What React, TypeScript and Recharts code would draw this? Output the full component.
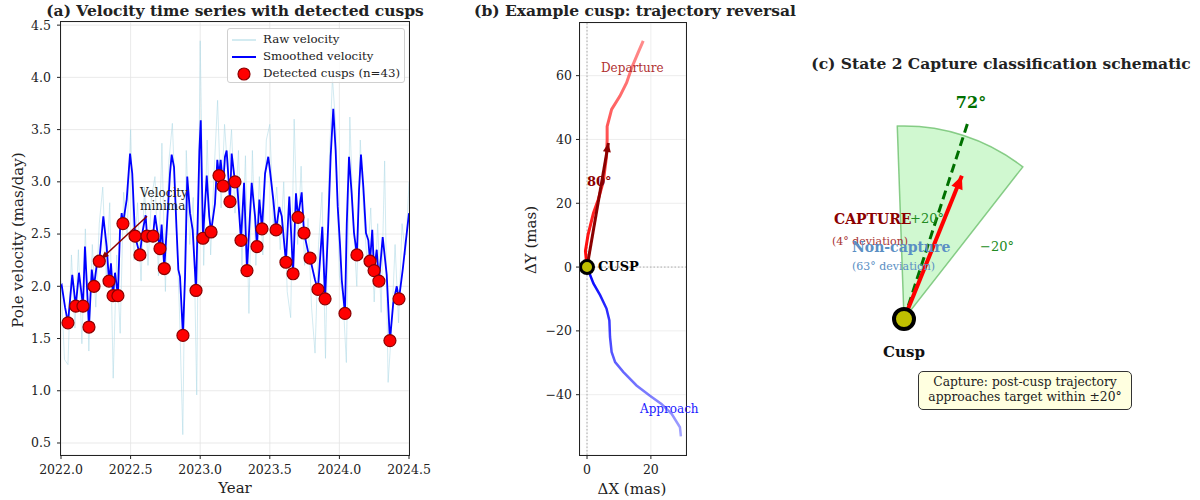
import React from 'react';
import {
  ComposedChart, Line, Scatter, XAxis, YAxis, CartesianGrid, ReferenceLine, ReferenceDot,
  PieChart, Pie, ScatterChart,
} from 'recharts';

const FONT = '"DejaVu Serif", serif';

// ---- (a) velocity time series ----
const yearTicks = [2022, 2022.5, 2023, 2023.5, 2024, 2024.5];
const velTicks = [0.5, 1, 1.5, 2, 2.5, 3, 3.5, 4, 4.5];

// smoothed velocity [year, mas/day]
const smoothVelocity: [number, number][] = [
  [2022.0, 2.0], [2022.005, 2.01], [2022.029, 1.8], [2022.05, 1.65], [2022.081, 2.11],
  [2022.106, 1.81], [2022.129, 2.13], [2022.158, 1.81], [2022.172, 2.38], [2022.201, 1.61],
  [2022.221, 2.16], [2022.237, 2.0], [2022.262, 2.26], [2022.275, 2.24], [2022.304, 2.67],
  [2022.328, 2.38], [2022.345, 2.05], [2022.359, 2.22], [2022.374, 1.91], [2022.388, 2.13],
  [2022.409, 1.91], [2022.424, 2.54], [2022.436, 2.7], [2022.445, 2.6], [2022.472, 2.83],
  [2022.496, 3.27], [2022.512, 3.08], [2022.532, 2.48], [2022.567, 2.3], [2022.584, 2.51],
  [2022.608, 2.68], [2022.618, 2.48], [2022.64, 2.52], [2022.661, 2.48], [2022.675, 2.68],
  [2022.711, 2.36], [2022.723, 2.59], [2022.742, 2.17], [2022.759, 2.54], [2022.783, 3.08],
  [2022.795, 3.26], [2022.812, 3.14], [2022.83, 2.55], [2022.843, 2.16], [2022.855, 2.09],
  [2022.876, 1.53], [2022.891, 2.09], [2022.907, 3.05], [2022.927, 2.7], [2022.946, 2.54],
  [2022.97, 1.96], [2022.994, 3.3], [2023.004, 3.59], [2023.02, 2.46], [2023.047, 3.06],
  [2023.065, 2.67], [2023.078, 2.52], [2023.106, 2.79], [2023.123, 3.21], [2023.135, 3.06],
  [2023.147, 3.21], [2023.164, 2.96], [2023.178, 3.24], [2023.19, 3.3], [2023.214, 2.81],
  [2023.226, 3.27], [2023.25, 3.0], [2023.262, 3.05], [2023.293, 2.44], [2023.315, 2.99],
  [2023.336, 2.15], [2023.37, 2.99], [2023.394, 2.67], [2023.408, 2.38], [2023.425, 2.83],
  [2023.444, 2.55], [2023.466, 3.08], [2023.489, 3.24], [2023.501, 3.11], [2023.525, 2.83],
  [2023.545, 2.54], [2023.568, 2.76], [2023.586, 2.67], [2023.616, 2.23], [2023.64, 2.86],
  [2023.657, 2.41], [2023.667, 2.12], [2023.688, 2.89], [2023.703, 2.66], [2023.729, 2.9],
  [2023.746, 2.51], [2023.777, 2.32], [2023.789, 2.27], [2023.825, 2.06], [2023.846, 1.97],
  [2023.877, 2.57], [2023.897, 1.88], [2023.92, 2.6], [2023.937, 3.24], [2023.956, 3.7],
  [2023.973, 3.3], [2023.988, 2.76], [2024.004, 2.41], [2024.017, 2.06], [2024.04, 1.74],
  [2024.053, 2.6], [2024.069, 3.24], [2024.088, 2.89], [2024.105, 2.51], [2024.126, 2.3],
  [2024.141, 2.92], [2024.155, 3.26], [2024.172, 2.95], [2024.191, 2.51], [2024.208, 2.44],
  [2024.22, 2.24], [2024.236, 2.54], [2024.249, 2.15], [2024.268, 2.35], [2024.284, 2.05],
  [2024.311, 2.47], [2024.34, 2.11], [2024.363, 1.48], [2024.387, 1.84], [2024.412, 2.0],
  [2024.428, 1.88], [2024.455, 2.16], [2024.478, 2.44], [2024.5, 2.7],
];

// raw velocity, sampled every 0.025 yr from 2022.0
const rawStart = 2022.0;
const rawStep = 0.025;
const rawVelocity = [
  2.05, 1.3, 1.25, 2.3, 1.6, 2.35, 1.45, 2.55, 1.38, 2.4,
  1.8, 2.6, 2.95, 2.1, 2.8, 1.12, 2.3, 1.55, 2.9, 2.5,
  3.5, 2.25, 2.8, 2.05, 2.95, 2.2, 2.85, 3.05, 2.1, 3.37,
  1.95, 3.2, 3.56, 2.7, 1.8, 0.58, 3.3, 2.4, 2.85, 0.96,
  4.35, 2.2, 3.4, 2.3, 3.1, 3.78, 2.75, 3.55, 3.05, 3.5,
  2.7, 3.3, 2.2, 3.25, 1.74, 3.3, 2.2, 3.05, 2.3, 3.4,
  3.55, 2.6, 2.95, 2.35, 3.0, 1.95, 1.7, 3.6, 2.4, 3.15,
  2.2, 2.65, 1.8, 1.36, 2.4, 2.9, 1.31, 3.1, 4.0, 3.5,
  2.1, 1.9, 1.27, 3.62, 2.6, 2.0, 3.4, 2.7, 2.2, 2.75,
  1.85, 2.6, 1.75, 3.2, 1.08, 1.6, 2.4, 1.65, 2.6, 2.3,
  3.0,
];

const cuspYears = [
  2022.05, 2022.106, 2022.158, 2022.201, 2022.237, 2022.275, 2022.345, 2022.374, 2022.409, 2022.445,
  2022.532, 2022.567, 2022.618, 2022.661, 2022.711, 2022.742, 2022.876, 2022.97, 2023.02, 2023.078,
  2023.135, 2023.164, 2023.214, 2023.25, 2023.293, 2023.336, 2023.408, 2023.444, 2023.545, 2023.616,
  2023.667, 2023.703, 2023.746, 2023.789, 2023.846, 2023.897, 2024.04, 2024.126, 2024.22, 2024.249,
  2024.284, 2024.363, 2024.428,
];
const cuspVals = [
  1.65, 1.81, 1.81, 1.61, 2.0, 2.24, 2.05, 1.91, 1.91, 2.6,
  2.48, 2.3, 2.48, 2.48, 2.36, 2.17, 1.53, 1.96, 2.46, 2.52,
  3.06, 2.96, 2.81, 3.0, 2.44, 2.15, 2.38, 2.55, 2.54, 2.23,
  2.12, 2.66, 2.51, 2.27, 1.97, 1.88, 1.74, 2.3, 2.24, 2.15,
  2.05, 1.48, 1.88,
];

const minimaText: [number, number] = [2022.618, 2.67];
const minimaTip: [number, number] = [2022.287, 2.26];

// ---- (b) example cusp ----
const approachPath: [number, number][] = [
  [29.4, -53.1], [29.1, -50.2], [26.5, -46.0], [23.3, -42.9], [19.7, -40.3], [15.5, -37.1],
  [11.4, -32.9], [8.8, -29.8], [7.7, -26.6], [7.2, -21.9], [7.0, -16.7], [6.1, -13.0],
  [4.1, -8.8], [2.0, -5.1], [0, 0],
];
const departurePath: [number, number][] = [
  [0, 0], [-0.5, 5], [0.3, 10], [2.0, 16.9], [3.5, 21.1], [5.1, 26.8], [6.1, 34.7],
  [6.3, 39.9], [6.3, 44.1], [7.7, 49.4], [10.3, 53.6], [12.4, 57.8], [14.0, 62.5],
  [16.0, 67.2], [17.6, 70.9],
];
const reversalTip: [number, number] = [6.7, 38.9];
const dxTicks = [0, 20];
const dyTicks = [-40, -20, 0, 20, 40, 60];

// ---- (c) schematic ----
const targetAngle = 72;
const tolerance = 20;
const captureDeviation = 4;
const nonCaptureDeviation = 63;

const tickStyle = { fontSize: 12.5, fill: '#222', fontFamily: FONT };
const minus = (v: number) => (v < 0 ? '\u2212' + Math.abs(v) : String(v));

function ArrowHead({ cx, cy, angle, len, wid, color }: any) {
  const a = (angle * Math.PI) / 180;
  const ux = Math.cos(a), uy = Math.sin(a);
  const bx = cx - ux * len, by = cy - uy * len;
  const pts = [
    [cx, cy],
    [bx - (uy * wid) / 2, by + (ux * wid) / 2],
    [bx + (uy * wid) / 2, by - (ux * wid) / 2],
  ].map((p) => p.join(',')).join(' ');
  return <polygon points={pts} fill={color} />;
}

function Txt({ x, y, size = 12, color = '#222', bold = false, center = false, children }: any) {
  return (
    <div
      style={{
        position: 'absolute',
        left: center ? x - 300 : x,
        width: center ? 600 : undefined,
        top: y - size * 0.6,
        textAlign: center ? 'center' : 'left',
        fontSize: size,
        lineHeight: `${size * 1.2}px`,
        whiteSpace: 'nowrap',
        fontFamily: FONT,
        fontWeight: bold ? 'bold' : 'normal',
        color,
      }}
    >
      {children}
    </div>
  );
}

function VLabel({ x, y, size = 15, children }: any) {
  return (
    <div
      style={{
        position: 'absolute', left: x, top: y, transform: 'translate(-50%, -50%) rotate(-90deg)',
        fontSize: size, fontFamily: FONT, whiteSpace: 'nowrap', color: '#222',
      }}
    >
      {children}
    </div>
  );
}

function Frame({ l, t, r, b }: any) {
  return (
    <div
      style={{
        position: 'absolute', left: l - 1, top: t - 1, width: r - l + 2, height: b - t + 2,
        border: '1.3px solid #222', boxSizing: 'border-box', pointerEvents: 'none',
      }}
    />
  );
}

function VelocityPanel() {
  const smooth = smoothVelocity.map(([x, y]) => ({ x, y }));
  const raw = rawVelocity.map((y, i) => ({ x: rawStart + i * rawStep, y }));
  const cusps = cuspYears.map((x, i) => ({ x, y: cuspVals[i] }));
  const yearDomain: [number, number] = [2022, 2024.5];
  const velDomain: [number, number] = [0.385, 4.53];
  const pl = 61, pr = 409, pt = 22, pb = 455;
  const W = 445;
  const pxYear = (pr - pl) / (yearDomain[1] - yearDomain[0]);
  const pxVel = (pb - pt) / (velDomain[1] - velDomain[0]);
  const ang =
    (Math.atan2(-(minimaTip[1] - minimaText[1]) * pxVel, (minimaTip[0] - minimaText[0]) * pxYear) * 180) / Math.PI;

  return (
    <>
      <div style={{ position: 'absolute', left: 0, top: 0 }}>
        <ComposedChart width={W} height={500} margin={{ top: pt, right: W - pr, bottom: 15, left: 0 }}>
          <CartesianGrid stroke="#e4e4e4" strokeWidth={0.8} />
          <XAxis
            type="number" dataKey="x" domain={yearDomain} ticks={yearTicks} interval={0} allowDataOverflow
            tickFormatter={(v: number) => v.toFixed(1)} tick={tickStyle} tickSize={4} tickMargin={6}
            axisLine={false} tickLine={{ stroke: '#222' }} height={30}
          />
          <YAxis
            type="number" domain={velDomain} ticks={velTicks} interval={0} allowDataOverflow
            tickFormatter={(v: number) => v.toFixed(1)} tick={tickStyle} tickSize={4} tickMargin={6}
            axisLine={false} tickLine={{ stroke: '#222' }} width={pl}
          />
          <Line data={raw} dataKey="y" stroke="#add8e6" strokeWidth={1} strokeOpacity={0.55} dot={false} isAnimationActive={false} />
          <Line data={smooth} dataKey="y" stroke="#0000ff" strokeWidth={1.8} dot={false} isAnimationActive={false} />
          <ReferenceLine
            segment={[{ x: minimaText[0], y: minimaText[1] }, { x: minimaTip[0], y: minimaTip[1] }]}
            stroke="#8b0000" strokeWidth={1.5}
          />
          <ReferenceDot
            x={minimaTip[0]} y={minimaTip[1]}
            shape={(p: any) => <ArrowHead cx={p.cx} cy={p.cy} angle={ang} len={8} wid={6} color="#8b0000" />}
          />
          <Scatter
            data={cusps} dataKey="y" isAnimationActive={false}
            shape={(p: any) => <circle cx={p.cx} cy={p.cy} r={6} fill="#ff0000" stroke="#8b0000" strokeWidth={1.2} />}
          />
        </ComposedChart>
      </div>
      <Frame l={pl} t={pt} r={pr} b={pb} />
      <div
        style={{
          position: 'absolute', left: 227, top: 28, width: 178, height: 55, boxSizing: 'border-box',
          border: '1px solid #d0d0d0', borderRadius: 3, background: 'rgba(255,255,255,0.8)',
        }}
      >
        <svg width={30} height={55} style={{ position: 'absolute', left: 0, top: 0 }}>
          <line x1={4} x2={28} y1={11} y2={11} stroke="#add8e6" strokeWidth={1.5} strokeOpacity={0.7} />
          <line x1={4} x2={28} y1={28} y2={28} stroke="#0000ff" strokeWidth={2} />
          <circle cx={16} cy={45} r={6} fill="#ff0000" stroke="#8b0000" strokeWidth={1.2} />
        </svg>
      </div>
      <Txt x={263} y={39} size={11.8}>Raw velocity</Txt>
      <Txt x={263} y={56} size={11.8}>Smoothed velocity</Txt>
      <Txt x={263} y={73} size={11.8}>Detected cusps (n=43)</Txt>
      <Txt x={140} y={193} size={12}>Velocity</Txt>
      <Txt x={140} y={206} size={12}>minima</Txt>
      <Txt x={235} y={11} size={15.5} bold center>(a) Velocity time series with detected cusps</Txt>
      <Txt x={235} y={488} size={15} center>Year</Txt>
      <VLabel x={18} y={240}>Pole velocity (mas/day)</VLabel>
    </>
  );
}

function CuspPanel() {
  const approach = approachPath.map(([x, y]) => ({ x, y }));
  const departure = departurePath.map(([x, y]) => ({ x, y }));
  const ang = (Math.atan2(-reversalTip[1], reversalTip[0]) * 180) / Math.PI;
  const pl = 580, pr = 686, pt = 23, pb = 455;
  return (
    <>
      <div style={{ position: 'absolute', left: 500, top: 0 }}>
        <ComposedChart width={190} height={500} margin={{ top: pt, right: 690 - pr, bottom: 15, left: 0 }}>
          <defs>
            <linearGradient id="gradApproach" x1="0" y1="0" x2="0" y2="1">
              <stop offset="0" stopColor="#0000ff" stopOpacity={1} />
              <stop offset="1" stopColor="#0000ff" stopOpacity={0.35} />
            </linearGradient>
            <linearGradient id="gradDeparture" x1="0" y1="1" x2="0" y2="0">
              <stop offset="0" stopColor="#ff0000" stopOpacity={1} />
              <stop offset="1" stopColor="#ff0000" stopOpacity={0.45} />
            </linearGradient>
          </defs>
          <CartesianGrid stroke="#e8e8e8" strokeWidth={0.8} />
          <XAxis
            type="number" dataKey="x" domain={[-2.2, 31.0]} ticks={dxTicks} interval={0} allowDataOverflow
            tickFormatter={minus} tick={tickStyle} tickSize={4} tickMargin={6}
            axisLine={false} tickLine={{ stroke: '#222' }} height={30}
          />
          <YAxis
            type="number" domain={[-58.9, 76.5]} ticks={dyTicks} interval={0} allowDataOverflow
            tickFormatter={minus} tick={tickStyle} tickSize={4} tickMargin={4}
            axisLine={false} tickLine={{ stroke: '#222' }} width={80}
          />
          <ReferenceLine x={0} stroke="#999" strokeDasharray="1.5 2" strokeWidth={0.8} />
          <ReferenceLine y={0} stroke="#999" strokeDasharray="1.5 2" strokeWidth={0.8} />
          <Line data={approach} dataKey="y" stroke="url(#gradApproach)" strokeWidth={2.5} dot={false} isAnimationActive={false} />
          <Line data={departure} dataKey="y" stroke="url(#gradDeparture)" strokeWidth={3} dot={false} isAnimationActive={false} />
          <ReferenceLine
            segment={[{ x: 0, y: 0 }, { x: reversalTip[0], y: reversalTip[1] }]}
            stroke="#8b0000" strokeWidth={3}
          />
          <ReferenceDot
            x={reversalTip[0]} y={reversalTip[1]}
            shape={(p: any) => <ArrowHead cx={p.cx} cy={p.cy} angle={ang} len={9} wid={8} color="#8b0000" />}
          />
          <Scatter
            data={[{ x: 0, y: 0 }]} dataKey="y" isAnimationActive={false}
            shape={(p: any) => <circle cx={p.cx} cy={p.cy} r={6.5} fill="#bfbf00" stroke="#000" strokeWidth={3} />}
          />
        </ComposedChart>
      </div>
      <Frame l={pl} t={pt} r={pr} b={pb} />
      <Txt x={601} y={68} size={12} color="#b03030">Departure</Txt>
      <Txt x={640} y={409} size={12} color="#2020ff">Approach</Txt>
      <Txt x={598} y={267} size={13} bold color="#000">CUSP</Txt>
      <Txt x={587} y={182} size={13} bold color="#8b0000">{'80°'}</Txt>
      <Txt x={635} y={11} size={15.5} bold center>(b) Example cusp: trajectory reversal</Txt>
      <Txt x={632} y={489} size={15} center>{'\u0394X (mas)'}</Txt>
      <VLabel x={531} y={240}>{'\u0394Y (mas)'}</VLabel>
    </>
  );
}

function SchematicPanel() {
  const R = 193; // wedge radius in px
  const W = 410, H = 420, cx = 114, cy = 279;
  const rad = (d: number) => (d * Math.PI) / 180;
  const captureAngle = targetAngle - captureDeviation;
  const targetEnd = { x: Math.cos(rad(targetAngle)) * 1.08, y: Math.sin(rad(targetAngle)) * 1.08 };
  const captureEnd = { x: Math.cos(rad(captureAngle)) * 0.8, y: Math.sin(rad(captureAngle)) * 0.8 };
  return (
    <>
      <div style={{ position: 'absolute', left: 790, top: 40 }}>
        <PieChart width={W} height={H} margin={{ top: 0, right: 0, bottom: 0, left: 0 }}>
          <Pie
            data={[{ name: 'window', value: 2 * tolerance }]} dataKey="value"
            cx={cx} cy={cy} innerRadius={0} outerRadius={R}
            startAngle={targetAngle - tolerance} endAngle={targetAngle + tolerance}
            fill="#90ee90" fillOpacity={0.42} stroke="#5cb85c" strokeOpacity={0.7} strokeWidth={1.5}
            isAnimationActive={false} label={false} labelLine={false}
          />
        </PieChart>
      </div>
      <div style={{ position: 'absolute', left: 790, top: 40 }}>
        <ScatterChart width={W} height={H} margin={{ top: 0, right: 0, bottom: 0, left: 0 }}>
          <XAxis type="number" dataKey="x" hide height={0} domain={[-cx / R, (W - cx) / R]} allowDataOverflow />
          <YAxis type="number" dataKey="y" hide width={0} domain={[-(H - cy) / R, cy / R]} allowDataOverflow />
          <ReferenceLine
            segment={[{ x: 0, y: 0 }, targetEnd]}
            stroke="#007000" strokeWidth={3} strokeDasharray="9 5"
          />
          <ReferenceLine segment={[{ x: 0, y: 0 }, captureEnd]} stroke="#ff0000" strokeWidth={4} />
          <ReferenceDot
            x={captureEnd.x} y={captureEnd.y}
            shape={(p: any) => <ArrowHead cx={p.cx} cy={p.cy} angle={-captureAngle} len={13} wid={12} color="#ff0000" />}
          />
          <Scatter
            data={[{ x: 0, y: 0 }]} isAnimationActive={false}
            shape={(p: any) => <circle cx={p.cx} cy={p.cy} r={10} fill="#bfbf00" stroke="#000" strokeWidth={4} />}
          />
        </ScatterChart>
      </div>
      <Txt x={1001} y={64} size={15.5} bold center>(c) State 2 Capture classification schematic</Txt>
      <Txt x={971} y={103} size={16} bold center color="#007000">{`${targetAngle}°`}</Txt>
      <Txt x={834} y={219} size={14} bold color="#8b0000">CAPTURE</Txt>
      <Txt x={910} y={219} size={13} color="#228b22">{`+${tolerance}°`}</Txt>
      <Txt x={832} y={242} size={11} color="#a83232">{`(${captureDeviation}° deviation)`}</Txt>
      <Txt x={852} y={247} size={14} bold color="#5a8fc4">Non-capture</Txt>
      <Txt x={852} y={267} size={11} color="#5a8fc4">{`(${nonCaptureDeviation}° deviation)`}</Txt>
      <Txt x={980} y={247} size={13} color="#228b22">{`\u2212${tolerance}°`}</Txt>
      <Txt x={904} y={352} size={15} bold center color="#111">Cusp</Txt>
      <div
        style={{
          position: 'absolute', left: 918, top: 371, width: 214, height: 39, boxSizing: 'border-box',
          border: '1.3px solid #333', borderRadius: 5, background: '#ffffe0', textAlign: 'center',
          fontFamily: FONT, fontSize: 12.3, lineHeight: '15px', paddingTop: 3, color: '#222',
        }}
      >
        Capture: post-cusp trajectory
        <br />
        {`approaches target within \u00b1${tolerance}°`}
      </div>
    </>
  );
}

export default function App() {
  return (
    <div
      style={{
        position: 'absolute', left: 0, top: 0, width: 1200, height: 500,
        background: '#fff', overflow: 'hidden', fontFamily: FONT,
      }}
    >
      <VelocityPanel />
      <CuspPanel />
      <SchematicPanel />
    </div>
  );
}
